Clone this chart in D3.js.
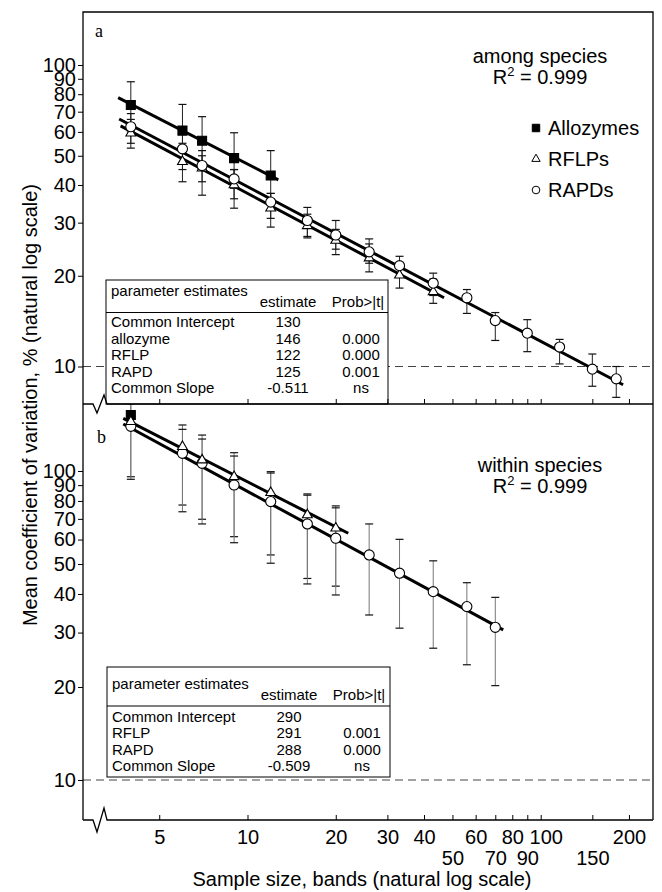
<!DOCTYPE html>
<html>
<head>
<meta charset="utf-8">
<script src="https://cdn.jsdelivr.net/npm/d3@7"></script>
<style>
body { margin: 0; background: #fff; }
</style>
</head>
<body>
<script>
// panel a, among species: sample size (bands), mean CV %, error bar ends
var allozA_n = [4, 6, 7, 9, 12];
var allozA_cv = [73.7, 60.6, 56.1, 49.1, 43.0];
var allozA_lo = [60, 47, 45, 39, 35];
var allozA_hi = [88, 74, 67.4, 59.6, 52];
var rflpA_n = [4, 6, 7, 9, 12, 16, 20, 26, 33, 43];
var rflpA_cv = [59.4, 47.8, 45.5, 40.0, 33.5, 29.3, 26.2, 22.9, 20.1, 17.7];
var rflpA_lo = [53, 41, 37, 33.5, 29, 26.7, 23.5, 20.6, 18.2, 16.2];
var rflpA_hi = [66, 55, 50, 45, 37.5, 32, 28.5, 25.5, 22, 19.5];
var rapdA_n = [4, 6, 7, 9, 12, 16, 20, 26, 33, 43, 56, 70, 90, 116, 150, 181];
var rapdA_cv = [62.4, 52.7, 46.4, 41.9, 35.1, 30.5, 27.3, 24.0, 21.6, 18.9, 16.9, 14.2, 12.9, 11.6, 9.8, 9.1];
var rapdA_lo = [55, 45, 41, 36, 31, 27, 24.5, 22, 19.8, 17.2, 15.0, 12.2, 11.2, 10.2, 8.6, 7.9];
var rapdA_hi = [69, 60, 52, 45, 37.5, 33.7, 30.5, 26.5, 23.2, 20.4, 18.0, 15.1, 14.3, 12.3, 11.0, 10.0];
// fitted lines, end points [n, cv]
var fitA_alloz = [[3.62, 77.9], [12.74, 41.6]];
var fitA_rflp = [[3.69, 62.8], [46.8, 16.9]];
var fitA_rapd = [[3.65, 66.2], [191, 8.7]];

// panel b, within species
var allozB_n = [4];
var allozB_cv = [151.8];
var rflpB_n = [4, 6, 7, 9, 12, 16, 20];
var rflpB_cv = [144.4, 119.9, 108.5, 95.8, 85.1, 72.1, 65.3];
var rflpB_lo = [95.8, 77.6, 69.8, 61.3, 53.5, 44.9, 42.4];
var rflpB_hi = [170, 140.9, 130.7, 114.6, 99.5, 84.3, 77.1];
var rapdB_n = [4, 6, 7, 9, 12, 16, 20, 26, 33, 43, 56, 70];
var rapdB_cv = [139.5, 114.1, 105.9, 90.1, 79.6, 67.4, 60.6, 53.5, 46.7, 40.7, 36.4, 31.2];
var rapdB_lo = [94, 73.8, 67.4, 58.6, 50.3, 43.1, 39.7, 34.2, 31.0, 26.7, 23.6, 20.2];
var rapdB_hi = [165, 136.4, 126.9, 111.8, 98.5, 83.5, 76, 67.4, 60.1, 51.2, 43.5, 39.0];
var fitB_rflp = [[3.77, 148.1], [22.06, 62.9]];
var fitB_rapd = [[3.77, 141.9], [74.5, 30.6]];

var yTicks = [10, 20, 30, 40, 50, 60, 70, 80, 90, 100];
var xTicks = [5, 10, 20, 30, 40, 50, 60, 70, 80, 90, 100, 150, 200];
var xTicksLow = [50, 70, 90, 150];

var tabA_terms = ["Common Intercept", "allozyme", "RFLP", "RAPD", "Common Slope"];
var tabA_est = ["130", "146", "122", "125", "-0.511"];
var tabA_prob = ["", "0.000", "0.000", "0.001", "ns"];
var tabB_terms = ["Common Intercept", "RFLP", "RAPD", "Common Slope"];
var tabB_est = ["290", "291", "288", "-0.509"];
var tabB_prob = ["", "0.001", "0.000", "ns"];

var legendNames = ["Allozymes", "RFLPs", "RAPDs"];
var legendShapes = ["square", "triangle", "circle"];

var FONT = "'Liberation Sans', Arial, Helvetica, sans-serif";
var W = 662, H = 892;
var L = 83, R = 653, T = 12, M = 404, B = 820;

var svg = d3.select("body").append("svg")
  .attr("width", W)
  .attr("height", H)
  .attr("font-family", FONT);

var x = d3.scaleLog().domain([10, 100]).range([247.5, 540.7]);
var yA = d3.scaleLog().domain([10, 100]).range([366.5, 65]);
var yB = d3.scaleLog().domain([10, 100]).range([780, 471]);

var defs = svg.append("defs");
defs.append("clipPath").attr("id", "clipA").append("rect")
  .attr("x", L).attr("y", T).attr("width", R - L).attr("height", M - T);
defs.append("clipPath").attr("id", "clipB").append("rect")
  .attr("x", L).attr("y", M).attr("width", R - L).attr("height", B - M);

// dashed 10% reference lines
[yA, yB].forEach(function (y) {
  svg.append("line")
    .attr("x1", L).attr("x2", R)
    .attr("y1", y(10)).attr("y2", y(10))
    .attr("stroke", "#444")
    .attr("stroke-width", 1)
    .attr("stroke-dasharray", "8,5");
});

var symbols = {
  square: d3.symbol().type(d3.symbolSquare).size(81),
  triangle: d3.symbol().type(d3.symbolTriangle).size(42),
  circle: d3.symbol().type(d3.symbolCircle).size(80)
};

function fitLine(g, y, pts) {
  var line = d3.line()
    .x(function (d) { return x(d[0]); })
    .y(function (d) { return y(d[1]); });
  g.append("path")
    .attr("d", line(pts))
    .attr("fill", "none")
    .attr("stroke", "#000")
    .attr("stroke-width", 3);
}

function errorBars(g, y, n, lo, hi, color) {
  for (var i = 0; i < n.length; i++) {
    var cx = x(n[i]);
    g.append("line")
      .attr("x1", cx).attr("x2", cx)
      .attr("y1", y(lo[i])).attr("y2", y(hi[i]))
      .attr("stroke", color)
      .attr("stroke-width", 1);
    [lo[i], hi[i]].forEach(function (v) {
      g.append("line")
        .attr("x1", cx - 4).attr("x2", cx + 4)
        .attr("y1", y(v)).attr("y2", y(v))
        .attr("stroke", "#111")
        .attr("stroke-width", 1.2);
    });
  }
}

function markers(g, y, n, cv, shape) {
  g.selectAll(null)
    .data(n)
    .enter()
    .append("path")
    .attr("d", symbols[shape])
    .attr("transform", function (d, i) {
      return "translate(" + x(d) + "," + y(cv[i]) + ")";
    })
    .attr("fill", shape == "square" ? "#000" : "#fff")
    .attr("stroke", "#000")
    .attr("stroke-width", 1.1);
}

// panel a
var ga = svg.append("g").attr("clip-path", "url(#clipA)");
fitLine(ga, yA, fitA_alloz);
fitLine(ga, yA, fitA_rapd);
fitLine(ga, yA, fitA_rflp);
errorBars(ga, yA, allozA_n, allozA_lo, allozA_hi, "#222");
errorBars(ga, yA, rflpA_n, rflpA_lo, rflpA_hi, "#222");
errorBars(ga, yA, rapdA_n, rapdA_lo, rapdA_hi, "#222");
markers(ga, yA, allozA_n, allozA_cv, "square");
markers(ga, yA, rflpA_n, rflpA_cv, "triangle");
markers(ga, yA, rapdA_n, rapdA_cv, "circle");

// panel b
var gb = svg.append("g").attr("clip-path", "url(#clipB)");
fitLine(gb, yB, fitB_rflp);
fitLine(gb, yB, fitB_rapd);
errorBars(gb, yB, rflpB_n, rflpB_lo, rflpB_hi, "#777");
errorBars(gb, yB, rapdB_n, rapdB_lo, rapdB_hi, "#777");
markers(gb, yB, allozB_n, allozB_cv, "square");
markers(gb, yB, rapdB_n, rapdB_cv, "circle");
markers(gb, yB, rflpB_n, rflpB_cv, "triangle");

// parameter tables
function drawTable(box, headY, rowY, rowStep, terms, est, prob) {
  var g = svg.append("g").attr("font-size", 15);
  g.append("rect")
    .attr("x", box[0]).attr("y", box[1])
    .attr("width", box[2] - box[0]).attr("height", box[3] - box[1])
    .attr("fill", "#fff")
    .attr("stroke", "#000")
    .attr("stroke-width", 1);
  var estX = box[0] + 182, probX = box[0] + 252;
  g.append("text").attr("x", box[0] + 5).attr("y", headY - 11).text("parameter estimates");
  g.append("text").attr("x", estX).attr("y", headY).attr("text-anchor", "middle").text("estimate");
  g.append("text").attr("x", probX).attr("y", headY).attr("text-anchor", "middle").text("Prob>|t|");
  g.append("line")
    .attr("x1", box[0]).attr("x2", box[2])
    .attr("y1", headY + 6).attr("y2", headY + 6)
    .attr("stroke", "#000").attr("stroke-width", 1.2);
  for (var i = 0; i < terms.length; i++) {
    var yy = rowY + i * rowStep;
    g.append("text").attr("x", box[0] + 5).attr("y", yy).text(terms[i]);
    g.append("text").attr("x", estX).attr("y", yy).attr("text-anchor", "middle").text(est[i]);
    g.append("text").attr("x", probX + 3).attr("y", yy).attr("text-anchor", "middle").text(prob[i]);
  }
}
drawTable([106, 280, 388, 404], 306.5, 327, 16.5, tabA_terms, tabA_est, tabA_prob);
drawTable([107, 667, 390, 777], 700, 722, 16.4, tabB_terms, tabB_est, tabB_prob);

// frame
svg.append("path")
  .attr("d", "M" + L + "," + B + "V" + T + "H" + R + "V" + B)
  .attr("fill", "none")
  .attr("stroke", "#000")
  .attr("stroke-width", 1.3);

// x axis lines with break marks
function xAxisLine(y0, amp) {
  svg.append("path")
    .attr("d", "M" + L + "," + y0 + "H" + (L + 10) +
      "L" + (L + 14) + "," + (y0 + amp) +
      "L" + (L + 21) + "," + (y0 - amp) +
      "L" + (L + 24) + "," + y0 + "H" + R)
    .attr("fill", "none")
    .attr("stroke", "#000")
    .attr("stroke-width", 1.3);
}
xAxisLine(M, 9);
xAxisLine(B, 12);

var axTop = svg.append("g")
  .attr("transform", "translate(0," + M + ")")
  .call(d3.axisBottom(x).tickValues(xTicks).tickFormat("").tickSizeInner(-5).tickSizeOuter(0));
axTop.select(".domain").remove();

var axBot = svg.append("g")
  .attr("transform", "translate(0," + B + ")")
  .call(d3.axisBottom(x).tickValues(xTicks).tickFormat(d3.format("d"))
    .tickSizeInner(-5).tickSizeOuter(0).tickPadding(10));
axBot.select(".domain").remove();
axBot.attr("font-size", 20).attr("font-family", FONT);
axBot.selectAll(".tick text")
  .attr("y", function (d) { return xTicksLow.indexOf(d) >= 0 ? 31 : 10; })
  .attr("dx", function (d) { return d == 100 ? 5 : 0; });

[yA, yB].forEach(function (y) {
  var ax = svg.append("g")
    .attr("transform", "translate(" + L + ",0)")
    .call(d3.axisLeft(y).tickValues(yTicks).tickFormat(d3.format("d")).tickSize(5).tickPadding(2));
  ax.select(".domain").remove();
  ax.attr("font-size", 20).attr("font-family", FONT);
});

// axis titles
svg.append("text")
  .attr("transform", "translate(37,405) rotate(-90)")
  .attr("text-anchor", "middle")
  .attr("font-size", 20)
  .text("Mean coefficient of variation, % (natural log scale)");
svg.append("text")
  .attr("x", 362).attr("y", 886)
  .attr("text-anchor", "middle")
  .attr("font-size", 20)
  .text("Sample size, bands (natural log scale)");

// panel letters
svg.append("text").attr("x", 95).attr("y", 37)
  .attr("font-family", "'Liberation Serif', 'Times New Roman', serif").attr("font-size", 18).text("a");
svg.append("text").attr("x", 97).attr("y", 443)
  .attr("font-family", "'Liberation Serif', 'Times New Roman', serif").attr("font-size", 18).text("b");

// panel notes
function note(cx, y1, label) {
  svg.append("text").attr("x", cx).attr("y", y1)
    .attr("text-anchor", "middle").attr("font-size", 20).text(label);
  var t = svg.append("text").attr("x", cx).attr("y", y1 + 21)
    .attr("text-anchor", "middle").attr("font-size", 20);
  t.append("tspan").text("R");
  t.append("tspan").attr("font-size", 13).attr("dy", -8).text("2");
  t.append("tspan").attr("dy", 8).text(" = 0.999");
}
note(540, 63, "among species");
note(540, 472, "within species");

// legend
var lg = svg.append("g");
legendNames.forEach(function (name, i) {
  var by = 135 + i * 31;
  var shape = legendShapes[i];
  lg.append("path")
    .attr("d", d3.symbol().type(shape == "square" ? d3.symbolSquare :
      shape == "triangle" ? d3.symbolTriangle : d3.symbolCircle)
      .size(shape == "square" ? 56 : shape == "triangle" ? 30 : 46))
    .attr("transform", "translate(536," + (by - 7) + ")")
    .attr("fill", shape == "square" ? "#000" : "#fff")
    .attr("stroke", "#000")
    .attr("stroke-width", 1);
  lg.append("text")
    .attr("x", 548).attr("y", by)
    .attr("font-size", 20)
    .text(name);
});
</script>
</body>
</html>
